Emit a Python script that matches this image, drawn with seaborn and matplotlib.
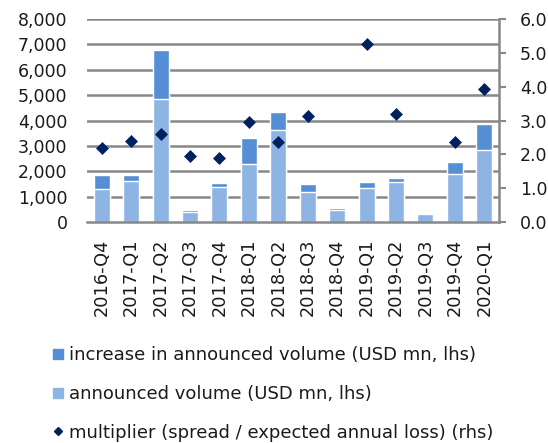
import numpy as np
import matplotlib
matplotlib.use("Agg")
import matplotlib.pyplot as plt
import seaborn as sns
from matplotlib.lines import Line2D
from matplotlib.ticker import FuncFormatter, MultipleLocator

# ─────────────────────────────────────────────────────────────
# DADOS
# ─────────────────────────────────────────────────────────────

quarters = ["2016-Q4", "2017-Q1", "2017-Q2", "2017-Q3", "2017-Q4",
            "2018-Q1", "2018-Q2", "2018-Q3", "2018-Q4", "2019-Q1",
            "2019-Q2", "2019-Q3", "2019-Q4", "2020-Q1"]

announced = [1300, 1600, 4830, 410, 1360, 2300, 3630, 1200, 480, 1350, 1590, 330, 1900, 2850]
increase  = [550, 250, 1940, 80, 160, 1020, 700, 310, 80, 240, 150, 0, 470, 1020]
multiplier = [2.20, 2.38, 2.60, 1.96, 1.90, 2.95, 2.37, 3.14, np.nan, 5.25, 3.19, np.nan, 2.37, 3.93]

labels = ["increase in announced volume (USD mn, lhs)",
          "announced volume (USD mn, lhs)",
          "multiplier (spread / expected annual loss) (rhs)"]

# ─────────────────────────────────────────────────────────────
# ESTILO
# ─────────────────────────────────────────────────────────────

COR_AUMENTO = "#558ED5"
COR_VOLUME  = "#8DB4E2"
COR_MULT    = "#002060"
COR_GRADE   = "#888888"
COR_TEXTO   = "#1A1A1A"

sns.set_theme(style="white")
plt.rcParams["font.family"] = ["DejaVu Sans"]
plt.rcParams["font.size"] = 12.5
plt.rcParams["text.color"] = COR_TEXTO

fig = plt.figure(figsize=(5.48, 4.43), dpi=100)
ax = fig.add_axes([87 / 548, 1 - 222 / 443, 412 / 548, 203 / 443])
ax2 = ax.twinx()
ax2.patch.set_visible(False)

# barras empilhadas: total (aumento) por baixo, volume anunciado por cima
totals = [a + b for a, b in zip(announced, increase)]
sns.barplot(x=quarters, y=totals, color=COR_AUMENTO, saturation=1,
            width=0.54, ax=ax, zorder=2)
sns.barplot(x=quarters, y=announced, color=COR_VOLUME, saturation=1,
            width=0.54, ax=ax, zorder=2)

# multiplicador no eixo da direita
sns.stripplot(x=quarters, y=multiplier, order=quarters, jitter=False,
              marker="D", size=6.6, linewidth=0, color=COR_MULT, ax=ax2)

# ─────────────────────────────────────────────────────────────
# EIXOS
# ─────────────────────────────────────────────────────────────

ax.set_xlim(-0.5, len(quarters) - 0.5)
ax.set_ylim(0, 8000)
ax2.set_ylim(0, 6)

# linhas de grade horizontais (atrás das barras)
for valor in range(1000, 8001, 1000):
    ax.axhline(valor, color=COR_GRADE, linewidth=1.8, zorder=0.5)

ax.yaxis.set_major_locator(MultipleLocator(1000))
ax2.yaxis.set_major_locator(MultipleLocator(1))
ax.yaxis.set_major_formatter(FuncFormatter(lambda v, p: f"{v:,.0f}"))
ax2.yaxis.set_major_formatter(FuncFormatter(lambda v, p: f"{v:.1f}"))
ax2.grid(False)

for a in (ax, ax2):
    for lado in ("top", "left", "right", "bottom"):
        a.spines[lado].set_visible(False)
ax.spines["bottom"].set_visible(True)
ax.spines["bottom"].set_color(COR_GRADE)
ax.spines["bottom"].set_linewidth(1.8)
ax2.spines["right"].set_visible(True)
ax2.spines["right"].set_color(COR_GRADE)
ax2.spines["right"].set_linewidth(1.8)

ax.set_xticks(range(len(quarters)))
ax.set_xticklabels(quarters, rotation=90)
ax.tick_params(axis="x", length=0, pad=12, labelsize=12.8, colors=COR_TEXTO)
ax.tick_params(axis="y", length=0, pad=14, labelsize=12.5, colors=COR_TEXTO)
ax2.tick_params(axis="y", length=5, width=1.5, color=COR_GRADE, pad=10,
                labelsize=12.5, labelcolor=COR_TEXTO, direction="out")

# ─────────────────────────────────────────────────────────────
# LEGENDA
# ─────────────────────────────────────────────────────────────

handles = [
    Line2D([], [], linestyle="none", marker="s", markersize=7,
           color=COR_AUMENTO),
    Line2D([], [], linestyle="none", marker="s", markersize=7,
           color=COR_VOLUME),
    Line2D([], [], linestyle="none", marker="D", markersize=4,
           color=COR_MULT),
]
fig.legend(handles, labels, loc="center left",
           bbox_to_anchor=(51 / 548, 1 - 394 / 443),
           frameon=False, fontsize=13, handlelength=0.8,
           handletextpad=0.2, labelspacing=1.15, borderpad=0,
           borderaxespad=0)

fig.savefig("out.png", dpi=100)
